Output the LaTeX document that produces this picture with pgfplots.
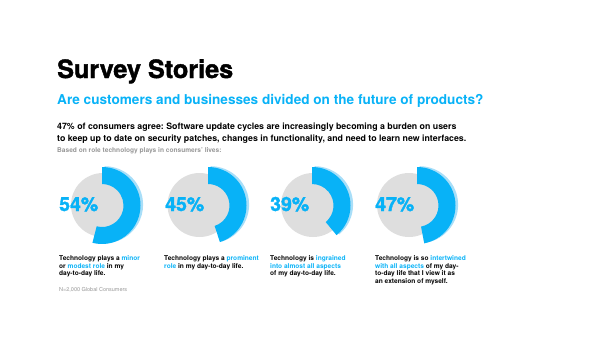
\documentclass[border=0pt]{standalone}
\usepackage{pgfplots}
\pgfplotsset{compat=1.18}
\usepackage{fontspec}
\setmainfont{TeX Gyre Heros}
\newfontfamily\heavy[BoldFeatures={FakeBold=1.6}]{TeX Gyre Heros}
\definecolor{accblue}{RGB}{8,178,247}
\definecolor{lightblue}{RGB}{168,222,248}
\definecolor{discgray}{RGB}{222,222,222}
\definecolor{notegray}{RGB}{150,150,150}
\frenchspacing
% #1 ring centre x, #2 disc centre x, #3 value, #4 label x
\newcommand{\donut}[4]{%
  \fill[lightblue] ([shift={(2.6bp,0.8bp)}]axis cs:#1,205.5) ++(90:38.5bp) arc[start angle=90,end angle={90-3.6*#3},radius=38.5bp]
     -- ([shift={(2.6bp,0.8bp)}]axis cs:#1,205.5) -- cycle;
  \fill[discgray] (axis cs:#2,205) circle[radius=32bp];
  \fill[accblue] ([shift={(90:38.5bp)}]axis cs:#1,205.5) arc[start angle=90,end angle={90-3.6*#3},radius=38.5bp]
     -- ([shift={({90-3.6*#3}:21.5bp)}]axis cs:#1,205.5) arc[start angle={90-3.6*#3},end angle=90,radius=21.5bp] -- cycle;
  \node[anchor=base west,inner sep=0pt,text=accblue,font=\fontsize{19.5bp}{21bp}\selectfont\heavy\bfseries] at (axis cs:#4,211) {#3\%};
}
\newcommand{\bl}[1]{\textcolor{accblue}{#1}}
\begin{document}
\begin{tikzpicture}
\begin{axis}[width=600bp,height=337bp,scale only axis,xmin=0,xmax=600,ymin=0,ymax=337,y dir=reverse,hide axis,clip=false]
\addplot[draw=none] coordinates {(0,0) (600,337)};
\donut{102}{103}{54}{59}
\donut{208}{199.5}{45}{165}
\donut{312}{313}{39}{270}
\donut{417}{409}{47}{375}
\tikzset{t/.style={anchor=base west,inner sep=0pt}}
\node[t,font=\fontsize{25.2bp}{27bp}\selectfont\heavy\bfseries] at (axis cs:57,78) {Survey Stories};
\node[t,font=\fontsize{13.6bp}{15bp}\selectfont\bfseries,text=accblue] at (axis cs:57,104) {Are customers and businesses divided on the future of products?};
\node[t,font=\fontsize{8.8bp}{10bp}\selectfont\bfseries] at (axis cs:57,129.5) {47\% of consumers agree: Software update cycles are increasingly becoming a burden on users};
\node[t,font=\fontsize{8.8bp}{10bp}\selectfont\bfseries] at (axis cs:57,141) {to keep up to date on security patches, changes in functionality, and need to learn new interfaces.};
\node[t,font=\fontsize{6.6bp}{8bp}\selectfont\bfseries,text=notegray] at (axis cs:57,152.5) {Based on role technology plays in consumers' lives:};
\tikzset{c/.style={anchor=base west,inner sep=0pt,font=\fontsize{6.6bp}{8bp}\selectfont\bfseries}}
\node[c] at (axis cs:59,260.5) {Technology plays a \bl{minor}};
\node[c] at (axis cs:59,268) {or \bl{modest role} in my};
\node[c] at (axis cs:59,275.5) {day-to-day life.};
\node[c] at (axis cs:164,260.5) {Technology plays a \bl{prominent}};
\node[c] at (axis cs:164,268) {\bl{role} in my day-to-day life.};
\node[c] at (axis cs:270,260.5) {Technology is \bl{ingrained}};
\node[c] at (axis cs:270,268) {\bl{into almost all aspects}};
\node[c] at (axis cs:270,275.5) {of my day-to-day life.};
\node[c] at (axis cs:375,260.5) {Technology is so \bl{intertwined}};
\node[c] at (axis cs:375,268) {\bl{with all aspects} of my day-};
\node[c] at (axis cs:375,275.5) {to-day life that I view it as};
\node[c] at (axis cs:375,283) {an extension of myself.};
\node[t,font=\fontsize{5.5bp}{7bp}\selectfont,text=notegray] at (axis cs:59,291.5) {N=2,000 Global Consumers};
\end{axis}
\end{tikzpicture}
\end{document}
